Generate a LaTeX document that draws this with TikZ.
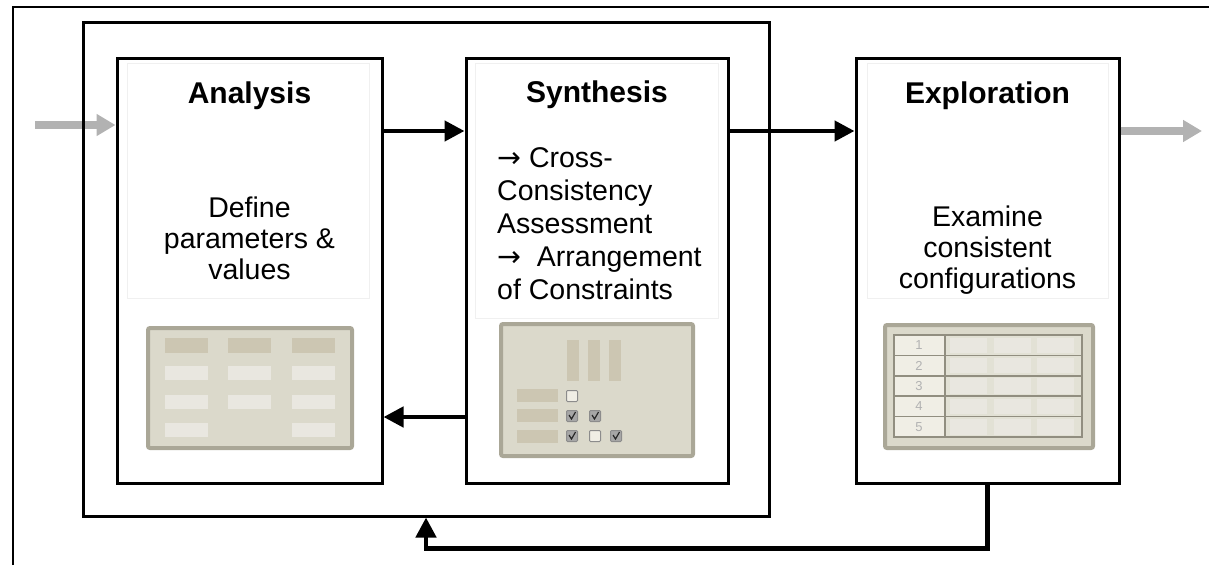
\documentclass[tikz,border=0pt]{standalone}
\usepackage{fontspec}
\setmainfont{Liberation Sans}
\newfontfamily\arrowfont{DejaVu Sans}
\usetikzlibrary{arrows.meta,backgrounds}

\definecolor{iconedge}{RGB}{170,167,151}
\definecolor{iconfill}{RGB}{219,217,203}
\definecolor{cellhead}{RGB}{204,198,178}
\definecolor{celllight}{RGB}{233,231,224}
\definecolor{numcell}{RGB}{240,238,229}
\definecolor{grayarrow}{RGB}{178,178,178}

\tikzset{
  stage/.style={draw, line width=3pt, minimum width=265pt, minimum height=425pt, inner sep=0pt},
  stagetitle/.style={font=\fontsize{30}{36}\selectfont\bfseries, inner sep=0pt, anchor=base},
  stagetext/.style={font=\fontsize{28.5}{31}\selectfont, inner sep=0pt, align=center, anchor=north},
  flow/.style={line width=4.5pt, -{Triangle[length=20pt,width=20pt]}},
  ioflow/.style={grayarrow, line width=7.5pt, -{Triangle[length=19pt,width=21pt]}},
  textframe/.style={draw=black!6, line width=1pt},
  icon/.style={draw=iconedge, fill=iconfill, line width=4pt, rounded corners=2pt},
}

\begin{document}
\begin{tikzpicture}[x=1pt,y=-1pt]
    \useasboundingbox (0,0) rectangle (1209,565);

    % Frame lines (top and left)
    \draw[line width=2pt] (13,565) -- (13,7) -- (1209,7);

    % Loop box round Analysis and Synthesis
    \node[draw, line width=3pt, minimum width=686pt, minimum height=494pt, inner sep=0pt] (loop) at (426,269) {};

    % Stages
    \node[stage] (ana) at (249.5,270.5) {};
    \node[stage, minimum width=262pt] (syn) at (597,270.5) {};
    \node[stage, minimum width=263pt] (exp) at (987.5,270.5) {};

    % Faint text frames
    \draw[textframe] (127,63) rectangle (369,298);
    \draw[textframe] (475,63) rectangle (718,318);
    \draw[textframe] (867,63) rectangle (1108,298);

    % Titles
    \node[stagetitle] (anatitle) at (249.5,103) {Analysis};
    \node[stagetitle] (syntitle) at (597,102) {Synthesis};
    \node[stagetitle] (exptitle) at (987.5,103) {Exploration};

    % Texts
    \node[stagetext] (anatext) at (249.5,197) {Define\\parameters \&\\values};
    \node[stagetext, align=left, anchor=north west, font=\fontsize{28.5}{33}\selectfont] (syntext) at (497,147) {{\arrowfont →} Cross-\\Consistency\\Assessment\\{\arrowfont →}\ \ Arrangement\\of Constraints};
    \node[stagetext] (exptext) at (987.5,206) {Examine\\consistent\\configurations};

    % Icon: parameter table
    \draw[icon] (148,328) rectangle (352,448);
    \foreach \x in {165,228,292}
        \fill[cellhead] (\x,338) rectangle ++(43,15);
    \foreach \x/\y in {165/366,228/366,292/366,165/395,228/395,292/395,165/423,292/423}
        \fill[celllight] (\x,\y) rectangle ++(43,14);

    % Icon: consistency matrix
    \draw[icon] (501,324) rectangle (693,456);
    \foreach \x in {567,588,609}
        \fill[cellhead] (\x,340) rectangle ++(12,41);
    \foreach \y in {389,409,430}
        \fill[cellhead] (517,\y) rectangle ++(41,13);
    \foreach \x/\y/\c in {572/396/0,572/416/1,595/416/1,572/436/1,595/436/0,616/436/1} {
        \ifnum\c=1
            \draw[draw=black!45, fill=black!35, line width=1pt, rounded corners=1pt] (\x-5.5,\y-5.5) rectangle (\x+5.5,\y+5.5);
            \draw[black!85, line width=1.2pt] (\x-3,\y-1) -- (\x-0.5,\y+3) -- (\x+3.5,\y-4);
        \else
            \draw[draw=black!45, fill=numcell, line width=1pt, rounded corners=1pt] (\x-5.5,\y-5.5) rectangle (\x+5.5,\y+5.5);
        \fi
    }

    % Icon: configuration list
    \draw[icon] (885,325) rectangle (1093,448);
    \fill[iconfill!80!white] (894,335) rectangle (1082,437);
    \fill[numcell] (894,335) rectangle (945,437);
    \foreach \i in {0,...,4} {
        \foreach \x in {950,994,1037}
            \fill[celllight] (\x,{337.5+20.4*\i}) rectangle ++(37,15.5);
    }
    \draw[iconedge!85!black, line width=1.5pt] (894,335) rectangle (1082,437);
    \foreach \i in {1,...,4}
        \draw[iconedge!85!black, line width=1.5pt] (894,{335+20.4*\i}) -- (1082,{335+20.4*\i});
    \draw[iconedge!85!black, line width=1.5pt] (945,335) -- (945,437);
    \foreach \i in {1,...,5}
        \node[font=\fontsize{13}{13}\selectfont, text=black!30, inner sep=0pt] (num\i) at (919,{345.2+20.4*(\i-1)}) {\i};

    % Connectors
    \coordinate (in) at (35,125);
    \coordinate (out) at (1202,131);
    \coordinate (upper) at (0,131);
    \coordinate (lower) at (0,417);
    \begin{scope}[on background layer]
        \draw[ioflow] (in) -- (ana.west |- in);
    \end{scope}
    \draw[ioflow] (exp.east |- out) -- (out);
    \draw[flow] (ana.east |- upper) -- (syn.west |- upper);
    \draw[flow] (syn.east |- upper) -- (exp.west |- upper);
    \draw[flow] (syn.west |- lower) -- (ana.east |- lower);
    \draw[flow] (exp.south) -- ++(0,64) -| (loop.south);

\end{tikzpicture}
\end{document}
